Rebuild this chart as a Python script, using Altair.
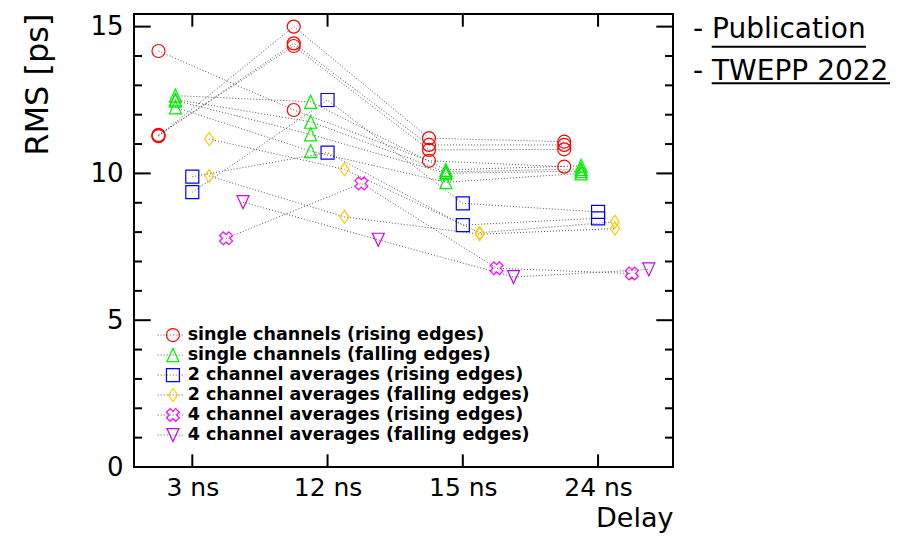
import altair as alt
import pandas as pd

# ---------------- data ----------------
delays = ["3 ns", "12 ns", "15 ns", "24 ns"]
series = [
    "single channels (rising edges)",
    "single channels (falling edges)",
    "2 channel averages (rising edges)",
    "2 channel averages (falling edges)",
    "4 channel averages (rising edges)",
    "4 channel averages (falling edges)",
]
colors = ["#ff0000", "#00ee00", "#0000ff", "#ffcc00", "#ff00ff", "#cc00ff"]
offsets = [-0.25, -0.125, 0.0, 0.125, 0.25, 0.375]

# RMS [ps], one list per channel, one value per delay
single_rising = [
    [14.17, 12.16, 10.43, 10.23],
    [11.27, 15.00, 11.20, 11.08],
    [11.29, 14.43, 10.97, 10.97],
    [11.31, 14.34, 10.80, 10.82],
]
single_falling = [
    [12.65, 12.44, 10.12, 10.26],
    [12.52, 11.76, 10.05, 10.15],
    [12.48, 11.33, 10.00, 10.08],
    [12.25, 10.76, 9.70, 10.00],
]
avg2_rising = [
    [9.36, 12.50, 8.98, 8.69],
    [9.89, 10.71, 8.24, 8.47],
]
avg2_falling = [
    [11.17, 10.14, 7.98, 8.35],
    [9.91, 8.52, 7.93, 8.12],
]
avg4_rising = [[7.79, 9.66, 6.77, 6.59]]
avg4_falling = [[9.02, 7.74, 6.47, 6.73]]

notes = ["- Publication", "- TWEPP 2022"]
y_major = [0, 5, 10, 15]
y_minor = [1, 2, 3, 4, 6, 7, 8, 9, 11, 12, 13, 14]
x_ticks = [0, 1, 2, 3]

# ---------------- table ----------------
groups = [single_rising, single_falling, avg2_rising, avg2_falling, avg4_rising, avg4_falling]
line_keys = ["l%d" % i for i in range(len(series))]
rows = []
for si, grp in enumerate(groups):
    for ci, vals in enumerate(grp):
        for di, v in enumerate(vals):
            rows.append({
                "series": series[si],
                "lkey": line_keys[si],
                "chan": "%d-%d" % (si, ci),
                "pos": di + offsets[si],
                "rms": v,
            })
df = pd.DataFrame(rows)

# ROOT-like open marker shapes
shapes = [
    "circle",
    "M0,-1L0.92,1L-0.92,1Z",
    "square",
    "M0,-1L0.7,0L0,1L-0.7,0Z",
    "M0.424,-0.99L0.99,-0.424L0.566,0L0.99,0.424L0.424,0.99L0,0.566L-0.424,0.99"
    "L-0.99,0.424L-0.566,0L-0.99,-0.424L-0.424,-0.99L0,-0.566Z",
    "M0,1L0.92,-1L-0.92,-1Z",
]

W, H = 539, 453
FONT = "DejaVu Sans"
xscale = alt.Scale(domain=[-0.431, 3.554], nice=False, zero=False)
yscale = alt.Scale(domain=[0, 15.43], nice=False, zero=False)

label_expr = "[" + ",".join("'%s'" % d for d in delays) + "][datum.value]"

x_axis = alt.Axis(values=x_ticks, labelExpr=label_expr, ticks=False, tickSize=0,
                  domain=False, grid=False, labelFontSize=25, labelPadding=8.5,
                  labelBaseline="top", labelFlush=False, labelOverlap=False,
                  title="Delay", titleFontSize=27, titleX=W, titleY=59.6,
                  titleAlign="right", titleBaseline="alphabetic")
y_axis = alt.Axis(values=y_major, ticks=False, tickSize=0, domain=False, grid=False,
                  labelFontSize=26, labelPadding=11, labelBaseline="middle",
                  labelFlush=False, format="d",
                  title="RMS [ps]", titleFontSize=32, titleX=-87, titleY=-1,
                  titleAlign="right", titleBaseline="alphabetic", titleAngle=270)


def X():
    return alt.X("pos:Q", scale=xscale, axis=x_axis)


def Y():
    return alt.Y("rms:Q", scale=yscale, axis=y_axis)


LEG_Y = 311.2
ROW_H = 19.66

lines = alt.Chart(df).mark_line(color="#555555", strokeWidth=1).encode(
    x=X(),
    y=Y(),
    detail="chan:N",
    strokeDash=alt.StrokeDash(
        "lkey:N",
        scale=alt.Scale(domain=line_keys, range=[[1, 2]] * len(line_keys)),
        legend=alt.Legend(orient="none", legendX=23.2, legendY=LEG_Y, title=None,
                          clipHeight=ROW_H, rowPadding=0, padding=0,
                          symbolType="stroke", symbolSize=729,
                          symbolStrokeColor="#555555", symbolStrokeWidth=1,
                          symbolDash=[1, 2], labelExpr="''"),
    ),
)

pt_legend = alt.Legend(orient="none", legendX=30.2, legendY=LEG_Y, title=None,
                       clipHeight=ROW_H, rowPadding=0, padding=0,
                       labelFont=FONT, labelFontWeight="bold", labelFontSize=17.5,
                       labelColor="black", labelOffset=6, labelLimit=500,
                       symbolSize=169, symbolStrokeWidth=1.2)

points = alt.Chart(df).mark_point(filled=False, size=169, strokeWidth=1.2, opacity=1).encode(
    x=X(),
    y=Y(),
    color=alt.Color("series:N", scale=alt.Scale(domain=series, range=colors), legend=pt_legend),
    shape=alt.Shape("series:N", scale=alt.Scale(domain=series, range=shapes), legend=pt_legend),
)


def hticks(vals, x0, x1):
    return alt.Chart(pd.DataFrame({"rms": vals})).mark_rule(color="black", strokeWidth=2).encode(
        y=Y(), x=alt.value(x0), x2=alt.value(x1))


def vticks(vals, y0, y1):
    return alt.Chart(pd.DataFrame({"pos": vals})).mark_rule(color="black", strokeWidth=2).encode(
        x=X(), y=alt.value(y0), y2=alt.value(y1))


ticks = [
    hticks(y_major, 0, 16.7), hticks(y_minor, 0, 8),
    hticks(y_major, W - 16.7, W), hticks(y_minor, W - 8, W),
    vticks(x_ticks, 0, 12.7), vticks(x_ticks, H - 12.7, H),
]


def note(text, y):
    return alt.Chart(pd.DataFrame({"t": [text]})).mark_text(
        align="left", baseline="alphabetic", font=FONT, fontSize=28, color="black"
    ).encode(text="t:N", x=alt.value(559), y=alt.value(y))


def underline(x0, x1, y):
    return alt.Chart(pd.DataFrame({"a": [0]})).mark_rule(color="black", strokeWidth=2).encode(
        x=alt.value(x0), x2=alt.value(x1), y=alt.value(y))


annots = [
    note(notes[0], 24.3), underline(577.7, 732.0, 32.7),
    note(notes[1], 66.0), underline(577.7, 756.0, 69.3),
]

chart = alt.layer(lines, points, *ticks, *annots).properties(
    width=W, height=H,
    padding={"left": 126, "top": 6, "right": 226, "bottom": 66},
    autosize=alt.AutoSizeParams(type="none"),
    background="white",
).configure_view(
    stroke="black", strokeWidth=2
).configure_axis(
    labelFont=FONT, titleFont=FONT, labelColor="black", titleColor="black",
    titleFontWeight="normal",
).configure_legend(
    labelFont=FONT,
)

chart.save("out.html", embed_options={"renderer": "svg", "actions": False})
